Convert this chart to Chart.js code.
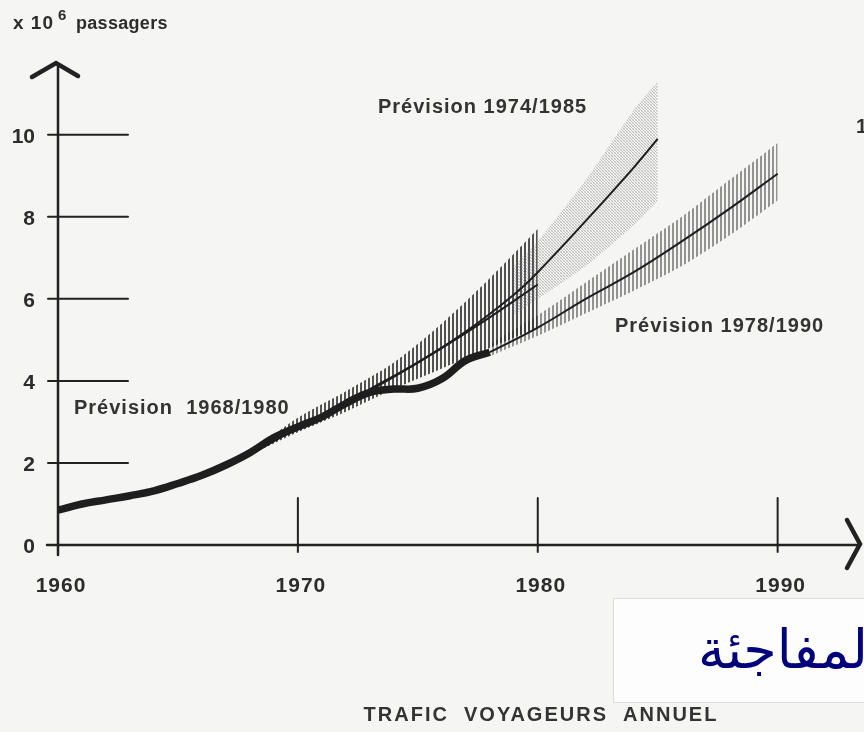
<!DOCTYPE html>
<html lang="fr">
<head>
<meta charset="UTF-8">
<title>Trafic voyageurs annuel</title>
<script src="https://cdn.jsdelivr.net/npm/chart.js"></script>
<style>
  body { margin: 0; background: #f5f5f4; }
  #wrap { width: 864px; height: 732px; }
</style>
</head>
<body>
<div id="wrap"><canvas id="trafic" width="864" height="732"></canvas></div>
<script>
  // trafic réel (millions de passagers)
  const anneesReel = [1960, 1961, 1962, 1963, 1964, 1965, 1966, 1967, 1968, 1969, 1970, 1971, 1972, 1973, 1974, 1975, 1976, 1977, 1978];
  const trafficReel = [0.85, 1.0, 1.1, 1.2, 1.32, 1.5, 1.7, 1.95, 2.25, 2.62, 2.88, 3.12, 3.45, 3.72, 3.8, 3.82, 4.05, 4.5, 4.7];

  // Prévision 1968/1980
  const annees6880 = [1968, 1970, 1972, 1974, 1976, 1978, 1980];
  const prev6880 = [2.2, 2.85, 3.45, 4.1, 4.8, 5.55, 6.35];
  const haut6880 = [2.25, 3.1, 3.75, 4.45, 5.4, 6.5, 7.7];
  const bas6880 = [2.2, 2.75, 3.25, 3.8, 4.3, 4.8, 5.3];

  // Prévision 1974/1985
  const annees7485 = [1973, 1975, 1977, 1979, 1980, 1982, 1984, 1985];
  const prev7485 = [3.8, 4.45, 5.2, 6.1, 6.65, 7.9, 9.2, 9.9];
  const anneesBande7485 = [1979, 1980, 1982, 1984, 1985];
  const haut7485 = [6.8, 7.4, 8.9, 10.6, 11.3];
  const bas7485 = [5.6, 6.0, 6.8, 7.8, 8.4];

  // Prévision 1978/1990
  const annees7890 = [1978, 1980, 1982, 1984, 1986, 1988, 1990];
  const prev7890 = [4.7, 5.3, 6.0, 6.65, 7.4, 8.2, 9.05];
  const haut7890 = [4.9, 5.6, 6.4, 7.2, 8.0, 8.9, 9.8];
  const bas7890 = [4.6, 5.1, 5.65, 6.2, 6.8, 7.55, 8.4];

  const ticksY = [0, 2, 4, 6, 8, 10];
  const ticksX = [1970, 1980, 1990];
  const labelsX = [1960, 1970, 1980, 1990];

  function pts(xs, ys) {
    return xs.map((x, i) => ({ x: x, y: ys[i] }));
  }

  // motifs de hachures
  function hachures(w, lw, couleur) {
    const c = document.createElement('canvas');
    c.width = w; c.height = 4;
    const g = c.getContext('2d');
    g.fillStyle = couleur;
    g.fillRect(0, 0, lw, 4);
    return g.createPattern(c, 'repeat');
  }
  function pointille() {
    const c = document.createElement('canvas');
    c.width = 3; c.height = 3;
    const g = c.getContext('2d');
    g.fillStyle = 'rgba(110,110,110,0.4)';
    g.fillRect(0, 0, 1, 1);
    g.fillRect(1, 1, 1, 1);
    g.fillRect(2, 2, 1, 1);
    g.fillStyle = 'rgba(150,150,150,0.25)';
    g.fillRect(2, 0, 1, 1);
    g.fillRect(0, 2, 1, 1);
    return g.createPattern(c, 'repeat');
  }

  const bande = (data, fill, motif) => ({
    data: data, borderWidth: 0, pointRadius: 0, tension: 0.3,
    fill: fill, backgroundColor: motif, order: 5
  });
  const ligne = (data, w) => ({
    data: data, borderColor: '#1e1e1e', borderWidth: w, pointRadius: 0,
    tension: 0.4, fill: false, order: 2
  });

  const police = (px) => 'bold ' + px + 'px "Liberation Sans", Arial, sans-serif';

  // axes, graduations et textes
  const decor = {
    id: 'decor',
    beforeDatasetsDraw(chart) {
      const ctx = chart.ctx;
      const sx = chart.scales.x, sy = chart.scales.y;
      const x0 = sx.getPixelForValue(1960), y0 = sy.getPixelForValue(0);
      ctx.save();
      ctx.strokeStyle = '#222';
      ctx.lineCap = 'round';

      // axe Y + flèche
      ctx.lineWidth = 2.5;
      ctx.beginPath();
      ctx.moveTo(x0, y0 + 10);
      ctx.lineTo(x0, 66);
      ctx.stroke();
      ctx.lineWidth = 4.5;
      ctx.beginPath();
      ctx.moveTo(32, 77);
      ctx.lineTo(x0 - 2, 63);
      ctx.lineTo(78, 76);
      ctx.stroke();

      // axe X + flèche
      ctx.lineWidth = 2.5;
      ctx.beginPath();
      ctx.moveTo(47, y0);
      ctx.lineTo(860, y0);
      ctx.stroke();
      ctx.lineWidth = 4.5;
      ctx.beginPath();
      ctx.moveTo(847, 520);
      ctx.lineTo(860, y0 - 1);
      ctx.lineTo(847, 568);
      ctx.stroke();

      // graduations Y
      ctx.lineWidth = 2;
      ctx.font = police(21);
      ctx.fillStyle = '#2c2c2c';
      ctx.textAlign = 'right';
      ctx.textBaseline = 'middle';
      ticksY.forEach(v => {
        const y = sy.getPixelForValue(v);
        if (v > 0) {
          ctx.beginPath();
          ctx.moveTo(48, y);
          ctx.lineTo(128, y);
          ctx.stroke();
        }
        ctx.fillText(String(v), 35, y + 2);
      });

      // graduations X
      ticksX.forEach(v => {
        const x = sx.getPixelForValue(v);
        ctx.beginPath();
        ctx.moveTo(x, y0 - 47);
        ctx.lineTo(x, y0 + 7);
        ctx.stroke();
      });
      ctx.textAlign = 'center';
      ctx.letterSpacing = '1px';
      labelsX.forEach(v => {
        ctx.fillText(String(v), sx.getPixelForValue(v) + 3, 586);
      });

      // titre de l'axe Y
      ctx.textAlign = 'left';
      ctx.textBaseline = 'alphabetic';
      ctx.font = police(19);
      ctx.letterSpacing = '1px';
      ctx.fillText('x 10', 13, 29);
      ctx.font = police(15);
      ctx.letterSpacing = '0px';
      ctx.fillText('6', 58, 20);
      ctx.font = police(18);
      ctx.letterSpacing = '0.3px';
      ctx.fillText('passagers', 76, 29);

      // étiquettes des prévisions
      ctx.font = police(20);
      ctx.letterSpacing = '1px';
      ctx.textBaseline = 'middle';
      ctx.fillStyle = '#333';
      ctx.fillText('Prévision 1974/1985', 378, 107);
      ctx.fillText('Prévision 1978/1990', 615, 326);
      ctx.fillText('Prévision  1968/1980', 74, 408);
      ctx.fillText('1', 856, 127);

      // titre
      ctx.font = police(20);
      ctx.textAlign = 'center';
      ctx.letterSpacing = '2px';
      ctx.fillText('TRAFIC  VOYAGEURS  ANNUEL', 541, 715);
      ctx.letterSpacing = '0px';

      // encadré arabe
      ctx.fillStyle = '#fdfdfd';
      ctx.fillRect(613, 598, 251, 105);
      ctx.strokeStyle = 'rgba(200,200,200,0.6)';
      ctx.lineWidth = 1;
      ctx.strokeRect(613.5, 598.5, 260, 104);
      ctx.fillStyle = '#00007a';
      ctx.font = '54px "DejaVu Sans", sans-serif';
      ctx.textAlign = 'left';
      ctx.textBaseline = 'alphabetic';
      ctx.direction = 'rtl';
      ctx.fillText('المفاجئة', 698, 668);
      ctx.restore();
    }
  };

  new Chart(document.getElementById('trafic'), {
    type: 'line',
    data: {
      datasets: [
        ligne(pts(anneesReel, trafficReel), 7.5),
        ligne(pts(annees6880, prev6880), 2),
        ligne(pts(annees7485, prev7485), 2),
        ligne(pts(annees7890, prev7890), 2),
        bande(pts(anneesBande7485, haut7485), '+1', pointille()),
        bande(pts(anneesBande7485, bas7485), false, 'transparent'),
        bande(pts(annees6880, haut6880), '+1', hachures(4, 2, 'rgba(40,40,40,0.8)')),
        bande(pts(annees6880, bas6880), false, 'transparent'),
        bande(pts(annees7890, haut7890), '+1', hachures(4, 2, 'rgba(80,80,80,0.6)')),
        bande(pts(annees7890, bas7890), false, 'transparent')
      ]
    },
    options: {
      responsive: false,
      animation: false,
      layout: { padding: { left: 58, right: 0, top: 65, bottom: 187 } },
      scales: {
        x: { type: 'linear', min: 1960, max: 1993.6, display: false },
        y: { type: 'linear', min: 0, max: 11.7, display: false }
      },
      plugins: {
        legend: { display: false },
        tooltip: { enabled: false }
      }
    },
    plugins: [decor]
  });
</script>
</body>
</html>
